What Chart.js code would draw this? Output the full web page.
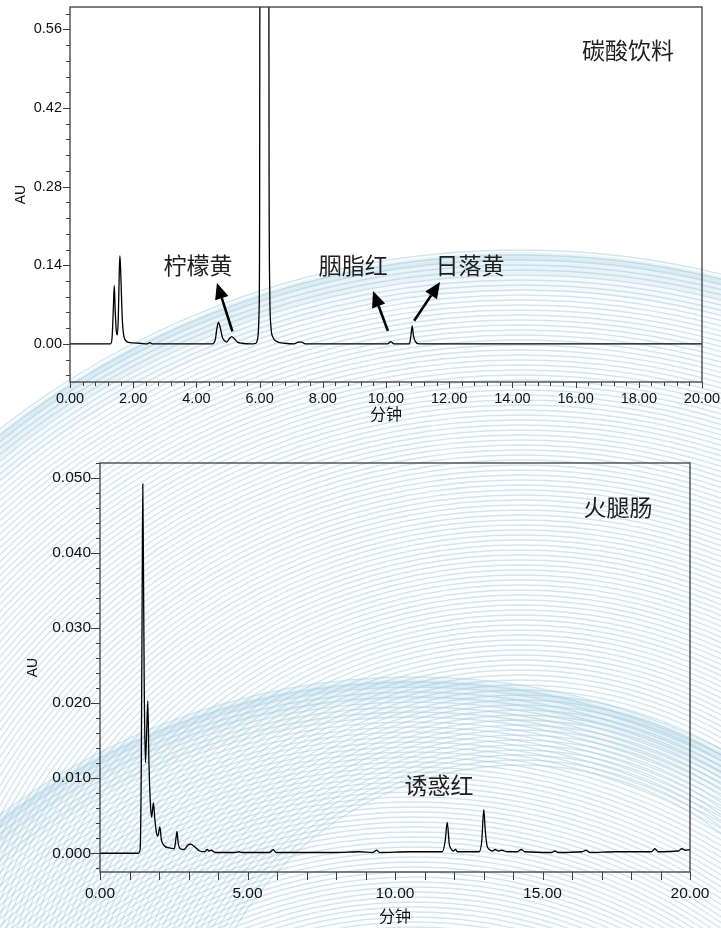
<!DOCTYPE html>
<html>
<head>
<meta charset="utf-8">
<script src="https://cdn.jsdelivr.net/npm/chart.js@4.4.1/dist/chart.umd.min.js"></script>
<style>
  html, body { margin: 0; padding: 0; background: #fff; }
  #page { position: relative; width: 721px; height: 928px; overflow: hidden; }
  #bg { position: absolute; left: 0; top: 0; }
  .box { position: absolute; left: 0; width: 721px; }
</style>
</head>
<body>
<div id="page">
  <canvas id="bg" width="721" height="928"></canvas>
  <div class="box" style="top:0;height:430px"><canvas id="topChart"></canvas></div>
  <div class="box" style="top:430px;height:498px"><canvas id="bottomChart"></canvas></div>
</div>
<script>
// carbonated drink trace (minutes, AU)
const drinkTime = [0, 1.28, 1.33, 1.37, 1.40, 1.43, 1.47, 1.50, 1.53, 1.56, 1.58, 1.61, 1.65, 1.70, 1.78, 1.90, 2.20, 2.45, 2.53, 2.60,
  4.50, 4.60, 4.65, 4.70, 4.75, 4.82, 4.88, 4.96, 5.05, 5.12, 5.20, 5.30, 5.45, 5.70,
  5.88, 5.94, 5.98, 6.00, 6.02, 6.15, 6.28, 6.30, 6.32, 6.36, 6.42, 6.55, 6.80,
  7.10, 7.22, 7.32, 7.45, 10.05, 10.15, 10.25, 10.74, 10.79, 10.83, 10.87, 10.93, 11.05, 20.00];
const drinkAU = [0, 0, 0.01, 0.06, 0.104, 0.06, 0.02, 0.016, 0.05, 0.13, 0.157, 0.12, 0.05, 0.015, 0.005, 0.002, 0.001, 0, 0.002, 0,
  0, 0.008, 0.028, 0.038, 0.03, 0.012, 0.006, 0.003, 0.010, 0.013, 0.009, 0.003, 0.001, 0,
  0.001, 0.01, 0.05, 0.2, 1.2, 1.3, 1.2, 0.3, 0.1, 0.03, 0.012, 0.004, 0.001,
  0, 0.003, 0.003, 0, 0, 0.004, 0, 0, 0.015, 0.032, 0.014, 0.004, 0, 0];

// ham sausage trace (minutes, AU)
const hamTime = [0, 1.30, 1.36, 1.40, 1.43, 1.45, 1.47, 1.50, 1.54, 1.58, 1.62, 1.66, 1.71, 1.75, 1.81, 1.86, 1.92, 1.96, 2.03, 2.08,
  2.18, 2.35, 2.52, 2.57, 2.61, 2.65, 2.72, 2.85, 2.98, 3.08, 3.20, 3.38, 3.55, 3.63, 3.70, 3.77, 3.90, 4.20, 4.60, 4.70, 4.80,
  5.50, 5.75, 5.87, 5.97, 8.00, 8.80, 9.25, 9.38, 9.48, 10.50, 11.30, 11.60, 11.70, 11.77, 11.84, 11.90, 11.97, 12.05, 12.12,
  12.85, 12.94, 13.01, 13.06, 13.12, 13.20, 13.30, 13.40, 13.50, 13.62, 13.80, 14.15, 14.28, 14.40, 15.30, 15.42, 15.52,
  16.35, 16.47, 16.60, 17.50, 18.70, 18.81, 18.92, 19.60, 19.72, 19.85, 20.00];
const hamAU = [0, 0, 0.0005, 0.012, 0.035, 0.0492, 0.04, 0.022, 0.0121, 0.016, 0.0203, 0.012, 0.0065, 0.0048, 0.0067, 0.0045, 0.0026, 0.0023, 0.0035, 0.0018,
  0.001, 0.0007, 0.0006, 0.0018, 0.0029, 0.0014, 0.0006, 0.0005, 0.0011, 0.0012, 0.0009, 0.0003, 0.0002, 0.0005, 0.0003, 0.0004, 0.0001, 0.0001, 0.0001, 0.0002, 0.0001,
  0.0001, 0.0001, 0.0005, 0.0001, 0.0001, 0.0002, 0.0001, 0.0004, 0.0001, 0.0002, 0.0002, 0.0002, 0.0016, 0.0041, 0.0012, 0.0006, 0.0003, 0.0005, 0.0002,
  0.0002, 0.0016, 0.0058, 0.003, 0.001, 0.0005, 0.0003, 0.0005, 0.0003, 0.0004, 0.0002, 0.0002, 0.0005, 0.0002, 0.0001, 0.0003, 0.0001,
  0.0002, 0.0004, 0.0001, 0.0002, 0.0002, 0.0006, 0.0002, 0.0003, 0.0006, 0.0004, 0.0005];

// tick labels
const drinkXTicks = [0, 2, 4, 6, 8, 10, 12, 14, 16, 18, 20];
const drinkYTicks = [0, 0.14, 0.28, 0.42, 0.56];
const hamXTicks = [0, 5, 10, 15, 20];
const hamYTicks = [0, 0.010, 0.020, 0.030, 0.040, 0.050];

// annotation texts
const drinkNotes = ['碳酸饮料', '柠檬黄', '胭脂红', '日落黄'];
const hamNotes = ['火腿肠', '诱惑红'];

const numFont = '"Liberation Sans", Arial, sans-serif';
const cjkFont = '"Noto Sans CJK SC", sans-serif';

// decorative page background: soft concentric arcs
function drawBackground() {
  const c = document.getElementById('bg').getContext('2d');
  const families = [
    {cx: 520, cy: 1095, R: 845, rMin: 330, step: 5},
    {cx: 414, cy: 1367, R: 691, rMin: 420, step: 5}
  ];
  families.forEach(f => {
    c.lineWidth = 1.4;
    c.strokeStyle = 'rgba(168,204,222,0.5)';
    for (let r = f.rMin; r <= f.R; r += f.step) {
      c.beginPath(); c.arc(f.cx, f.cy, r, Math.PI, 2 * Math.PI); c.stroke();
    }
    [[34, 0.09, 24], [20, 0.14, 14], [8, 0.18, 6]].forEach(([w, a, off]) => {
      c.lineWidth = w;
      c.strokeStyle = 'rgba(150,200,220,' + a + ')';
      c.beginPath(); c.arc(f.cx, f.cy, f.R - off, Math.PI, 2 * Math.PI); c.stroke();
    });
  });
}
drawBackground();

const frameTicks = {
  id: 'frameTicks',
  afterDraw(chart, args, o) {
    const {ctx, chartArea: a, scales: {x, y}} = chart;
    ctx.save();
    ctx.strokeStyle = '#3c3c3c';
    ctx.lineWidth = 1.3;
    ctx.strokeRect(a.left, a.top, a.right - a.left, a.bottom - a.top);
    ctx.lineWidth = 1;
    ctx.beginPath();
    const nx = Math.round((x.max - x.min) / o.xMinor);
    for (let i = 0; i <= nx; i++) {
      const v = x.min + i * o.xMinor;
      const major = Math.abs(v / o.xMajor - Math.round(v / o.xMajor)) < 1e-6;
      const px = Math.round(x.getPixelForValue(v)) + 0.5;
      ctx.moveTo(px, a.bottom);
      ctx.lineTo(px, a.bottom + (major ? o.xMajorLen : o.xMinorLen));
    }
    const first = Math.ceil(y.min / o.yMinor - 1e-6);
    const last = Math.floor(y.max / o.yMinor + 1e-6);
    for (let i = first; i <= last; i++) {
      const v = i * o.yMinor;
      const major = Math.abs(v / o.yMajor - Math.round(v / o.yMajor)) < 1e-6;
      const py = Math.round(y.getPixelForValue(v)) + 0.5;
      ctx.moveTo(a.left, py);
      ctx.lineTo(a.left - (major ? o.yMajorLen : o.yMinorLen), py);
    }
    ctx.stroke();
    ctx.restore();
  }
};

const notes = {
  id: 'notes',
  afterDraw(chart, args, o) {
    const {ctx, scales: {x, y}} = chart;
    ctx.save();
    ctx.fillStyle = '#1e1e1e';
    ctx.font = '23px ' + cjkFont;
    ctx.textAlign = 'center';
    ctx.textBaseline = 'middle';
    o.labels.forEach(l => ctx.fillText(l.text, x.getPixelForValue(l.x), y.getPixelForValue(l.y)));
    ctx.strokeStyle = '#000';
    ctx.fillStyle = '#000';
    o.arrows.forEach(ar => {
      const x1 = x.getPixelForValue(ar.from[0]), y1 = y.getPixelForValue(ar.from[1]);
      const x2 = x.getPixelForValue(ar.to[0]), y2 = y.getPixelForValue(ar.to[1]);
      const ang = Math.atan2(y2 - y1, x2 - x1);
      const hl = 16, hw = 7;
      const bx = x2 - hl * Math.cos(ang), by = y2 - hl * Math.sin(ang);
      ctx.lineWidth = 2.6;
      ctx.beginPath(); ctx.moveTo(x1, y1); ctx.lineTo(bx, by); ctx.stroke();
      ctx.beginPath();
      ctx.moveTo(x2, y2);
      ctx.lineTo(bx + hw * Math.sin(ang), by - hw * Math.cos(ang));
      ctx.lineTo(bx - hw * Math.sin(ang), by + hw * Math.cos(ang));
      ctx.closePath(); ctx.fill();
    });
    ctx.restore();
  }
};

function noPad(s) {
  s.paddingTop = 0; s.paddingBottom = 0; s.paddingLeft = 0; s.paddingRight = 0;
}

function makeChart(id, time, au, c) {
  return new Chart(document.getElementById(id), {
    type: 'line',
    data: {
      datasets: [{
        data: time.map((t, i) => ({x: t, y: au[i]})),
        borderColor: '#000',
        borderWidth: 1.3,
        pointRadius: 0,
        cubicInterpolationMode: 'monotone',
        fill: false
      }]
    },
    options: {
      responsive: true,
      maintainAspectRatio: false,
      animation: false,
      events: [],
      layout: {padding: c.padding},
      plugins: {
        legend: {display: false},
        tooltip: {enabled: false},
        frameTicks: c.frame,
        notes: c.notes
      },
      scales: {
        x: {
          type: 'linear', min: 0, max: 20,
          afterBuildTicks: s => { s.ticks = c.xTicks.map(v => ({value: v})); },
          afterFit: s => { s.height = c.xHeight; noPad(s); },
          grid: {display: false, drawTicks: false}, border: {display: false},
          ticks: {callback: v => v.toFixed(2), padding: c.xPad, maxRotation: 0, autoSkip: false,
                  color: '#111', font: {family: numFont, size: c.numSize}},
          title: {display: true, text: '分钟', color: '#111', font: {family: cjkFont, size: 16},
                  padding: {top: 0, bottom: c.xTitlePad}}
        },
        y: {
          type: 'linear', min: c.yMin, max: c.yMax,
          afterBuildTicks: s => { s.ticks = c.yTicks.map(v => ({value: v})); },
          afterFit: s => { s.width = c.yWidth; noPad(s); },
          grid: {display: false, drawTicks: false}, border: {display: false},
          ticks: {callback: v => v.toFixed(c.yDigits), padding: c.yPad, autoSkip: false,
                  color: '#111', font: {family: numFont, size: c.numSize}},
          title: {display: true, text: 'AU', color: '#111', font: {family: numFont, size: 14},
                  padding: {top: c.yTitlePad, bottom: 0}}
        }
      }
    },
    plugins: [frameTicks, notes]
  });
}

makeChart('topChart', drinkTime, drinkAU, {
  padding: {top: 7, right: 19, left: 0, bottom: 0},
  xTicks: drinkXTicks, yTicks: drinkYTicks,
  yMin: -0.068, yMax: 0.60, yDigits: 2,
  xHeight: 48, yWidth: 70, xPad: 8, yPad: 8, numSize: 14.5,
  xTitlePad: 6, yTitlePad: 13,
  frame: {xMinor: 0.4, xMajor: 2, xMajorLen: 6, xMinorLen: 4, yMinor: 0.028, yMajor: 0.14, yMajorLen: 7, yMinorLen: 4},
  notes: {
    labels: [
      {text: drinkNotes[0], x: 17.66, y: 0.523},
      {text: drinkNotes[1], x: 4.05, y: 0.14},
      {text: drinkNotes[2], x: 8.96, y: 0.14},
      {text: drinkNotes[3], x: 12.66, y: 0.14}
    ],
    arrows: [
      {from: [5.14, 0.022], to: [4.65, 0.1085]},
      {from: [10.06, 0.023], to: [9.59, 0.094]},
      {from: [10.89, 0.041], to: [11.71, 0.110]}
    ]
  }
});

makeChart('bottomChart', hamTime, hamAU, {
  padding: {top: 33, right: 31, left: 0, bottom: 0},
  xTicks: hamXTicks, yTicks: hamYTicks,
  yMin: -0.0025, yMax: 0.052, yDigits: 3,
  xHeight: 56, yWidth: 100, xPad: 12, yPad: 9, numSize: 15.5,
  xTitlePad: 2, yTitlePad: 25,
  frame: {xMinor: 1, xMajor: 5, xMajorLen: 8, xMinorLen: 8, yMinor: 0.002, yMajor: 0.01, yMajorLen: 9, yMinorLen: 4},
  notes: {
    labels: [
      {text: hamNotes[0], x: 17.56, y: 0.0461},
      {text: hamNotes[1], x: 11.49, y: 0.00907}
    ],
    arrows: []
  }
});
</script>
</body>
</html>
